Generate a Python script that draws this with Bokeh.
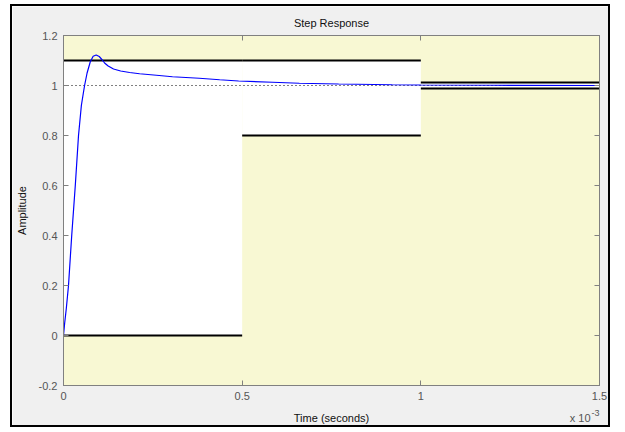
from bokeh.plotting import figure
from bokeh.models import Range1d, FixedTicker, LinearAxis, Label
from bokeh.embed import file_html
from bokeh.resources import INLINE

# ---- data (time in ms, i.e. x 10^-3 s) ----
t_ms = [0, 0.003, 0.008, 0.014, 0.023, 0.033, 0.042, 0.05, 0.055, 0.059, 0.066,
        0.075, 0.083, 0.0915, 0.1, 0.108, 0.115, 0.125, 0.14, 0.16, 0.185, 0.213,
        0.26, 0.305, 0.38, 0.437, 0.49, 0.585, 0.66, 0.77, 0.92, 1.0, 1.2, 1.5]
amplitude = [0, 0.046, 0.11, 0.2, 0.4, 0.6, 0.8, 0.92, 0.965, 1.0, 1.05,
             1.095, 1.117, 1.122, 1.116, 1.103, 1.09, 1.078, 1.066, 1.058, 1.052, 1.047,
             1.041, 1.035, 1.029, 1.023, 1.018, 1.013, 1.009, 1.006, 1.003, 1.002, 1.001, 1.0]

# design constraint segments: x start, x end, lower bound, upper bound
seg_x0 = [0.0, 0.5, 1.0]
seg_x1 = [0.5, 1.0, 1.5]
seg_lo = [0.0, 0.8, 0.988]
seg_hi = [1.1, 1.1, 1.012]

final_value = 1.0

x_ticks = [0, 0.5, 1, 1.5]
x_tick_labels = ["0", "0.5", "1", "1.5"]
y_ticks = [-0.2, 0, 0.2, 0.4, 0.6, 0.8, 1, 1.2]
y_tick_labels = ["-0.2", "0", "0.2", "0.4", "0.6", "0.8", "1", "1.2"]

x_label = "Time (seconds)"
x_exp_base = "x 10"
x_exp_power = "-3"
y_label = "Amplitude"
title = "Step Response"

FONT = "Liberation Sans"
GRAY = "#f0f0f0"
YELLOW = "#f8f8d3"

p = figure(width=600, height=423, output_backend="svg", toolbar_location=None,
           x_range=Range1d(0, 1.5), y_range=Range1d(-0.2, 1.2),
           min_border_left=51, min_border_right=13, min_border_top=29, min_border_bottom=44,
           background_fill_color=YELLOW, border_fill_color=GRAY,
           title=title)
p.styles = {"border": "2px solid black"}
p.margin = (4, 0, -10, 10)

p.title.align = "center"
p.title.text_font = FONT
p.title.text_font_size = "11px"
p.title.text_font_style = "normal"
p.title.text_color = "#111111"
p.title.standoff = 14

p.xgrid.visible = False
p.ygrid.visible = False
p.outline_line_color = "#808080"

# white allowed regions
p.quad(left=seg_x0, right=seg_x1, bottom=seg_lo, top=seg_hi,
       fill_color="white", line_color=None)

# reference dotted line at final value
p.line(x=[x_ticks[0], x_ticks[-1]], y=[final_value, final_value],
       line_color="black", line_width=1, line_dash="1 3")

# constraint lines
p.segment(x0=seg_x0, x1=seg_x1, y0=seg_hi, y1=seg_hi,
          line_color="black", line_width=2.2)
p.segment(x0=seg_x0, x1=seg_x1, y0=seg_lo, y1=seg_lo,
          line_color="black", line_width=2.2)

# step response
p.line(x=t_ms, y=amplitude, line_color="#0000ff", line_width=1.2)


def style_axis(ax, ticks, labels=None):
    ax.ticker = FixedTicker(ticks=ticks)
    ax.axis_line_color = "#808080"
    ax.major_tick_line_color = "#808080"
    ax.major_tick_in = 5
    ax.major_tick_out = 0
    ax.minor_tick_line_color = None
    ax.major_label_text_font = FONT
    ax.major_label_text_font_size = "11px"
    ax.major_label_text_color = "#555555"
    ax.axis_label_text_font = FONT
    ax.axis_label_text_font_size = "11px"
    ax.axis_label_text_font_style = "normal"
    ax.axis_label_text_color = "#111111"
    if labels is None:
        ax.major_label_overrides = {v: "" for v in ticks}
        ax.major_label_standoff = 0
    else:
        ax.major_label_overrides = {v: s for v, s in zip(ticks, labels)}
        ax.major_label_standoff = 6


xa = p.xaxis[0]
style_axis(xa, x_ticks, x_tick_labels)

ya = p.yaxis[0]
style_axis(ya, y_ticks, y_tick_labels)
ya.axis_label = y_label
ya.axis_label_standoff = 8

top_ax = LinearAxis()
style_axis(top_ax, x_ticks)
p.add_layout(top_ax, "above")

right_ax = LinearAxis()
style_axis(right_ax, y_ticks)
p.add_layout(right_ax, "right")

# time-axis title and exponent, placed on the same line under the tick labels
label_y = -0.33
p.add_layout(Label(x=(x_ticks[0] + x_ticks[-1]) / 2, y=label_y, text=x_label,
                   text_align="center", text_baseline="middle", text_font=FONT,
                   text_font_size="11px", text_color="#111111"), "below")
p.add_layout(Label(x=x_ticks[-1], y=label_y, text=x_exp_base, x_offset=-9,
                   text_align="right", text_baseline="middle", text_font=FONT,
                   text_font_size="11px", text_color="#555555"), "below")
p.add_layout(Label(x=x_ticks[-1], y=label_y, text=x_exp_power, y_offset=5,
                   text_align="right", text_baseline="middle", text_font=FONT,
                   text_font_size="9px", text_color="#555555"), "right")

open("out.html", "w").write(file_html(p, INLINE))
